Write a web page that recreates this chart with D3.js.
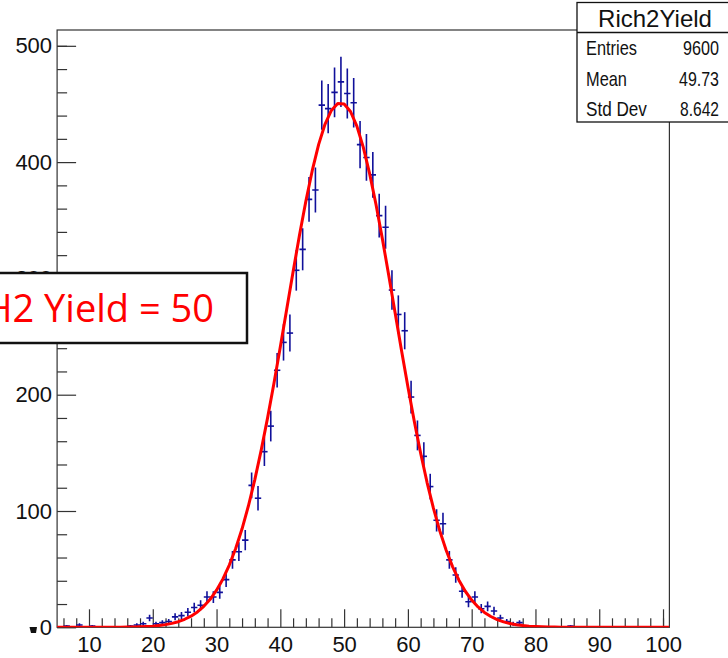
<!DOCTYPE html>
<html><head><meta charset="utf-8">
<script src="https://cdn.jsdelivr.net/npm/d3@7"></script>
<style>html,body{margin:0;padding:0;background:#fff;overflow:hidden;} svg{display:block;}</style>
</head><body>
<svg id="chart" width="728" height="658"></svg>
<script>
// ---------------- data ----------------
const binStart = 5;        // first bin low edge
const binWidth = 1;        // bin width
// counts per bin, bins [5,6), [6,7) ... [100,101)
const counts = [
  0, 1, 0, 2, 0, 1, 0, 0, 0, 0,
  0, 1, 2, 3, 8, 3, 4, 5, 9, 10,
  13, 17, 19, 26, 26, 30, 41, 58, 65, 75,
  122, 111, 151, 173, 221, 245, 253, 307, 325, 368,
  376, 449, 446, 460, 469, 459, 451, 415, 404, 389,
  354, 344, 290, 269, 255, 198, 165, 147, 121, 92,
  89, 58, 45, 31, 22, 26, 16, 18, 14, 8,
  5, 3, 4, 1, 0, 0, 0, 0, 0, 0,
  1, 0, 0, 0, 0, 0, 0, 0, 0, 0,
  0, 0, 0, 0, 0, 0
];
// fitted curve at x = 5, 6, ... 101
const fitX = [5,6,7,8,9,10,11,12,13,14,15,16,17,18,19,20,21,22,23,24,25,26,27,28,29,30,
  31,32,33,34,35,36,37,38,39,40,41,42,43,44,45,46,47,48,49,50,51,52,53,54,55,56,57,58,59,60,
  61,62,63,64,65,66,67,68,69,70,71,72,73,74,75,76,77,78,79,80,81,82,83,84,85,86,87,88,89,90,
  91,92,93,94,95,96,97,98,99,100,101];
const fitY = [0,0,0,0,0,0,0,0,0.03,0.06,0.11,0.18,0.28,0.44,0.68,1.0,1.6,2.3,3.4,4.8,6.9,9.6,13.2,18.0,24.1,31.9,
  41.6,53.5,67.8,84.7,104.5,127.0,152.4,180.1,209.9,241.3,273.5,305.7,337.1,366.3,392.6,415.0,432.5,444.4,450.4,450.0,
  443.5,430.9,412.9,390.1,363.5,334.0,302.6,270.3,238.1,206.9,177.2,149.7,124.7,102.4,82.9,66.3,52.2,40.5,31.0,23.4,
  17.5,12.8,9.3,6.6,4.7,3.2,2.2,1.5,1.0,0.65,0.42,0.27,0.17,0.1,0,0,0,0,0,0,0,0,0,0,0,0,0,0,0,0,0];
const xMajorTicks = [10,20,30,40,50,60,70,80,90,100];
const xMinorTicks = [6,8,12,14,16,18,22,24,26,28,32,34,36,38,42,44,46,48,52,54,56,58,62,64,66,68,72,74,76,78,82,84,86,88,92,94,96,98,100];
const yMajorTicks = [0,100,200,300,400,500];
const yMinorTicks = [20,40,60,80,120,140,160,180,220,240,260,280,320,340,360,380,420,440,460,480,500];
const statsTitle = "Rich2Yield";
const statsLabels = ["Entries", "Mean", "Std Dev"];
const statsValues = ["9600", "49.73", "8.642"];
const annotationText = "RICH2 Yield = 50";

// ---------------- drawing ----------------
const svg = d3.select("#chart");
const FONT = "'Liberation Sans', Arial, Helvetica, sans-serif";
const x = d3.scaleLinear().domain([5, 101]).range([57.1, 669.4]);
const y = d3.scaleLinear().domain([0, 513.6]).range([627.3, 30]);

svg.append("defs").append("clipPath").attr("id", "frameClip")
  .append("rect").attr("x", x.range()[0]).attr("y", y.range()[1])
  .attr("width", x.range()[1] - x.range()[0]).attr("height", y.range()[0] - y.range()[1]);

// frame
svg.append("rect").attr("x", x.range()[0]).attr("y", y.range()[1])
  .attr("width", x.range()[1] - x.range()[0]).attr("height", y.range()[0] - y.range()[1])
  .attr("fill", "none").attr("stroke", "#333").attr("stroke-width", 1.2);

// x axis
const gx = svg.append("g").attr("transform", `translate(0,${y.range()[0]})`);
gx.call(d3.axisBottom(x).tickValues(xMajorTicks).tickSizeInner(-18).tickSizeOuter(0).tickPadding(9));
const gxm = svg.append("g").attr("transform", `translate(0,${y.range()[0]})`);
gxm.call(d3.axisBottom(x).tickValues(xMinorTicks).tickSizeInner(-9).tickSizeOuter(0).tickFormat(""));
// y axis
const gy = svg.append("g").attr("transform", `translate(${x.range()[0]},0)`);
gy.call(d3.axisLeft(y).tickValues(yMajorTicks).tickSizeInner(-19).tickSizeOuter(0).tickPadding(5));
const gym = svg.append("g").attr("transform", `translate(${x.range()[0]},0)`);
gym.call(d3.axisLeft(y).tickValues(yMinorTicks).tickSizeInner(-10).tickSizeOuter(0).tickFormat(""));
[gx, gxm, gy, gym].forEach(g => {
  g.select(".domain").remove();
  g.selectAll(".tick line").attr("stroke", "#333").attr("stroke-width", 1.2);
  g.selectAll(".tick text").attr("fill", "#111").attr("font-family", FONT).attr("font-size", 22);
});

// small dark mark left of the zero label
svg.append("path").attr("d", "M29.5,627 L37,627 L36,633 L31,633 Z").attr("fill", "#111");

// histogram points with error bars
const bins = counts.map((c, i) => ({lo: binStart + i * binWidth, hi: binStart + (i + 1) * binWidth, n: c}))
  .filter(d => d.n > 0);
const gh = svg.append("g").attr("clip-path", "url(#frameClip)")
  .attr("stroke", "#10109a").attr("stroke-width", 1.6);
gh.selectAll("line.h").data(bins).join("line").attr("class", "h")
  .attr("x1", d => x(d.lo)).attr("x2", d => x(d.hi))
  .attr("y1", d => y(d.n)).attr("y2", d => y(d.n));
gh.selectAll("line.v").data(bins).join("line").attr("class", "v")
  .attr("x1", d => x((d.lo + d.hi) / 2)).attr("x2", d => x((d.lo + d.hi) / 2))
  .attr("y1", d => y(d.n - Math.sqrt(d.n))).attr("y2", d => y(d.n + Math.sqrt(d.n)));

// fit curve
const fitPts = fitX.map((v, i) => [v, fitY[i]]);
svg.append("path").datum(fitPts).attr("clip-path", "url(#frameClip)")
  .attr("d", d3.line().x(d => x(d[0])).y(d => y(d[1])))
  .attr("fill", "none").attr("stroke", "#ff0000").attr("stroke-width", 3).attr("stroke-linejoin", "round");

// stats box
const sb = svg.append("g");
sb.append("rect").attr("x", 577).attr("y", 2.5).attr("width", 160).attr("height", 119.5)
  .attr("fill", "#fff").attr("stroke", "#111").attr("stroke-width", 1.3);
sb.append("line").attr("x1", 577).attr("x2", 737).attr("y1", 32.5).attr("y2", 32.5)
  .attr("stroke", "#111").attr("stroke-width", 1.3);
sb.append("text").attr("x", 655).attr("y", 27).attr("text-anchor", "middle")
  .attr("font-family", FONT).attr("font-size", 24).attr("fill", "#111").text(statsTitle);
const rowBase = [55, 85.5, 115.5];
const labelLen = [51, 41, 61];
const valueLen = [36, 40, 39];
function condensed(str, left, base, len) {
  const t = sb.append("text").attr("x", 0).attr("y", 0).attr("font-family", FONT)
    .attr("font-size", 20.5).attr("fill", "#111").text(str);
  const w = t.node().getComputedTextLength();
  t.attr("transform", `translate(${left},${base}) scale(${len / w},1)`);
}
statsLabels.forEach((t, i) => {
  condensed(t, 586, rowBase[i], labelLen[i]);
  condensed(statsValues[i], 719 - valueLen[i], rowBase[i], valueLen[i]);
});

// annotation box
const ab = svg.append("g");
ab.append("rect").attr("x", -4).attr("y", 273).attr("width", 251).attr("height", 70)
  .attr("fill", "#fff").attr("stroke", "#111").attr("stroke-width", 2.5);
ab.append("text").attr("x", 214).attr("y", 322).attr("text-anchor", "end")
  .attr("font-family", "'Open Sans', 'Noto Sans', sans-serif").attr("font-size", 38)
  .attr("fill", "#ff0000").text(annotationText);
</script>
</body></html>
